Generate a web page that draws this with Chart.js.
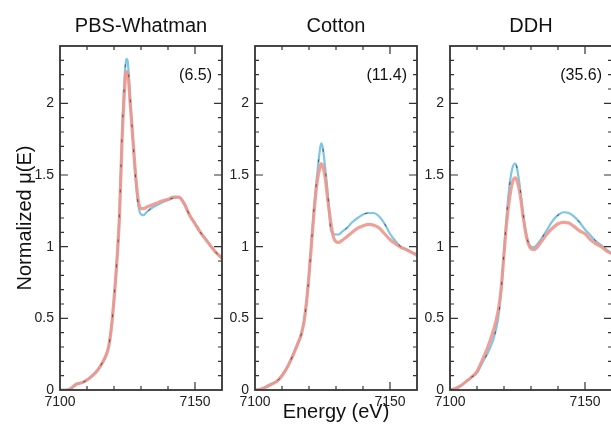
<!DOCTYPE html>
<html>
<head>
<meta charset="utf-8">
<script src="https://cdn.jsdelivr.net/npm/chart.js@4.4.1/dist/chart.umd.min.js"></script>
<style>
html, body { margin: 0; padding: 0; background: #fff; }
body { width: 611px; height: 431px; overflow: hidden; position: relative; }
canvas { position: absolute; top: 0; }
</style>
</head>
<body>
<canvas id="c0" width="240" height="431" style="left:0px"></canvas>
<canvas id="c1" width="240" height="431" style="left:195px"></canvas>
<canvas id="c2" width="240" height="431" style="left:390px"></canvas>
<script>
// energy grid (eV), shared by all three panels
const energy = [7100, 7102, 7104, 7106, 7108, 7110, 7112, 7114, 7116, 7117, 7118, 7119, 7120, 7121, 7122, 7123, 7124, 7124.5, 7125, 7126,
  7127, 7128, 7129, 7130, 7131, 7132, 7134, 7136, 7138, 7140, 7142, 7144, 7146, 7148, 7150, 7152, 7154, 7156, 7158, 7160];

// PBS-Whatman
const pbsBlue = [0, 0, 0.01, 0.04, 0.05, 0.07, 0.10, 0.14, 0.20, 0.24, 0.30, 0.43, 0.63, 0.88, 1.22, 1.78, 2.20, 2.31, 2.30, 2.03,
  1.75, 1.48, 1.29, 1.225, 1.22, 1.24, 1.27, 1.29, 1.31, 1.325, 1.34, 1.345, 1.30, 1.22, 1.16, 1.10, 1.05, 1.0, 0.955, 0.92];
const pbsRed = [0, 0, 0.01, 0.04, 0.05, 0.07, 0.10, 0.14, 0.20, 0.24, 0.30, 0.43, 0.63, 0.88, 1.20, 1.75, 2.12, 2.22, 2.22, 2.0,
  1.75, 1.5, 1.32, 1.265, 1.265, 1.275, 1.29, 1.305, 1.32, 1.33, 1.345, 1.345, 1.30, 1.22, 1.16, 1.10, 1.05, 1.0, 0.955, 0.92];

// Cotton
const cottonBlue = [0, 0.005, 0.02, 0.04, 0.06, 0.10, 0.16, 0.24, 0.33, 0.38, 0.46, 0.60, 0.80, 1.05, 1.30, 1.50, 1.67, 1.72, 1.70, 1.55,
  1.36, 1.13, 1.09, 1.085, 1.085, 1.10, 1.13, 1.17, 1.20, 1.225, 1.235, 1.235, 1.21, 1.16, 1.09, 1.04, 1.0, 0.98, 0.96, 0.95];
const cottonRed = [0, 0.005, 0.02, 0.04, 0.06, 0.10, 0.16, 0.24, 0.33, 0.38, 0.46, 0.60, 0.80, 1.04, 1.27, 1.45, 1.55, 1.58, 1.57, 1.48,
  1.32, 1.18, 1.07, 1.035, 1.03, 1.04, 1.07, 1.10, 1.13, 1.145, 1.155, 1.15, 1.13, 1.09, 1.05, 1.02, 0.995, 0.98, 0.96, 0.94];

// DDH
const ddhBlue = [0, 0.01, 0.03, 0.06, 0.09, 0.12, 0.19, 0.26, 0.35, 0.42, 0.52, 0.70, 0.96, 1.22, 1.42, 1.54, 1.58, 1.57, 1.53, 1.40,
  1.24, 1.11, 1.03, 1.0, 0.995, 1.01, 1.06, 1.12, 1.18, 1.22, 1.24, 1.235, 1.21, 1.17, 1.12, 1.08, 1.04, 1.01, 0.98, 0.95];
const ddhRed = [0, 0.01, 0.03, 0.06, 0.09, 0.13, 0.21, 0.30, 0.41, 0.48, 0.57, 0.72, 0.95, 1.17, 1.33, 1.44, 1.48, 1.475, 1.45, 1.36,
  1.22, 1.10, 1.02, 0.985, 0.98, 0.99, 1.04, 1.09, 1.13, 1.16, 1.17, 1.165, 1.14, 1.11, 1.09, 1.05, 1.02, 1.0, 0.97, 0.95];

const panelTitles = ['PBS-Whatman', 'Cotton', 'DDH'];
const panelNotes = ['(6.5)', '(11.4)', '(35.6)'];
const blueSeries = [pbsBlue, cottonBlue, ddhBlue];
const redSeries = [pbsRed, cottonRed, ddhRed];

const xTickValues = [7100, 7150];
const yTickValues = [0, 0.5, 1, 1.5, 2];

const sansFont = "'Liberation Sans', Arial, sans-serif";
const narrowFont = "'Liberation Sans Narrow', 'Liberation Sans', Arial, sans-serif";
const ink = '#222';

function toPoints(ys) {
  return energy.map((e, i) => ({ x: e, y: ys[i] }));
}

// titles, (value) notes, frame and inward tick marks
const panelDeco = {
  id: 'panelDeco',
  afterDraw(chart, args, opts) {
    const ctx = chart.ctx;
    const a = chart.chartArea;
    const xs = chart.scales.x, ys = chart.scales.y;
    ctx.save();
    ctx.fillStyle = '#111';
    ctx.font = '20px ' + sansFont;
    ctx.textAlign = 'center';
    ctx.textBaseline = 'alphabetic';
    ctx.fillText(opts.title, (a.left + a.right) / 2, 32);
    ctx.font = '16px ' + sansFont;
    ctx.textAlign = 'right';
    ctx.fillText(opts.note, a.right - 10, 80);

    ctx.strokeStyle = '#333';
    ctx.lineWidth = 1.2;
    ctx.beginPath();
    for (let v = 7110; v < 7160; v += 10) {
      const px = xs.getPixelForValue(v);
      const len = v === 7150 ? 8 : 4;
      ctx.moveTo(px, a.bottom); ctx.lineTo(px, a.bottom - len);
      ctx.moveTo(px, a.top); ctx.lineTo(px, a.top + len);
    }
    for (let k = 1; k <= 23; k++) {
      const py = ys.getPixelForValue(k / 10);
      const len = k % 5 === 0 ? 8 : 4;
      ctx.moveTo(a.left, py); ctx.lineTo(a.left + len, py);
      ctx.moveTo(a.right, py); ctx.lineTo(a.right - len, py);
    }
    ctx.stroke();
    ctx.lineWidth = 1.8;
    ctx.strokeRect(a.left, a.top, a.right - a.left, a.bottom - a.top);
    ctx.restore();
  }
};

for (let i = 0; i < 3; i++) {
  new Chart(document.getElementById('c' + i), {
    type: 'line',
    data: {
      datasets: [
        {
          label: 'dash',
          data: toPoints(blueSeries[i]),
          borderColor: 'rgba(20,20,20,0.6)',
          borderWidth: 1,
          borderDash: [3, 22],
          order: 0
        },
        {
          label: 'red',
          data: toPoints(redSeries[i]),
          borderColor: 'rgba(240,150,140,0.9)',
          borderWidth: 3.2,
          order: 1
        },
        {
          label: 'blue',
          data: toPoints(blueSeries[i]),
          borderColor: 'rgb(125,198,228)',
          borderWidth: 2.2,
          order: 2
        }
      ]
    },
    options: {
      responsive: false,
      animation: false,
      devicePixelRatio: 1,
      layout: { padding: { top: 46, right: 18, left: 0, bottom: 0 } },
      elements: {
        point: { radius: 0 },
        line: { cubicInterpolationMode: 'monotone', fill: false }
      },
      plugins: {
        legend: { display: false },
        tooltip: { enabled: false },
        panelDeco: { title: panelTitles[i], note: panelNotes[i] }
      },
      scales: {
        x: {
          type: 'linear',
          min: 7100,
          max: 7160,
          grid: { display: false, drawTicks: false },
          border: { display: false },
          afterBuildTicks: s => { s.ticks = xTickValues.map(v => ({ value: v })); },
          afterFit: s => { s.height = 41; },
          ticks: {
            padding: 4,
            maxRotation: 0,
            autoSkip: false,
            color: ink,
            font: { size: 14, family: narrowFont },
            callback: v => String(v)
          },
          title: {
            display: i === 1,
            text: 'Energy (eV)',
            color: '#111',
            font: { size: 20, family: sansFont },
            padding: { top: 0, bottom: 7 }
          }
        },
        y: {
          min: 0,
          max: 2.4,
          grid: { display: false, drawTicks: false },
          border: { display: false },
          afterBuildTicks: s => { s.ticks = yTickValues.map(v => ({ value: v })); },
          afterFit: s => { s.width = 60; },
          ticks: {
            padding: 6,
            color: ink,
            font: { size: 14, family: narrowFont },
            callback: v => String(v)
          },
          title: {
            display: i === 0,
            text: 'Normalized μ(E)',
            color: '#111',
            font: { size: 20, family: sansFont },
            padding: { top: 13, bottom: 0 }
          }
        }
      }
    },
    plugins: [panelDeco]
  });
}
</script>
</body>
</html>
